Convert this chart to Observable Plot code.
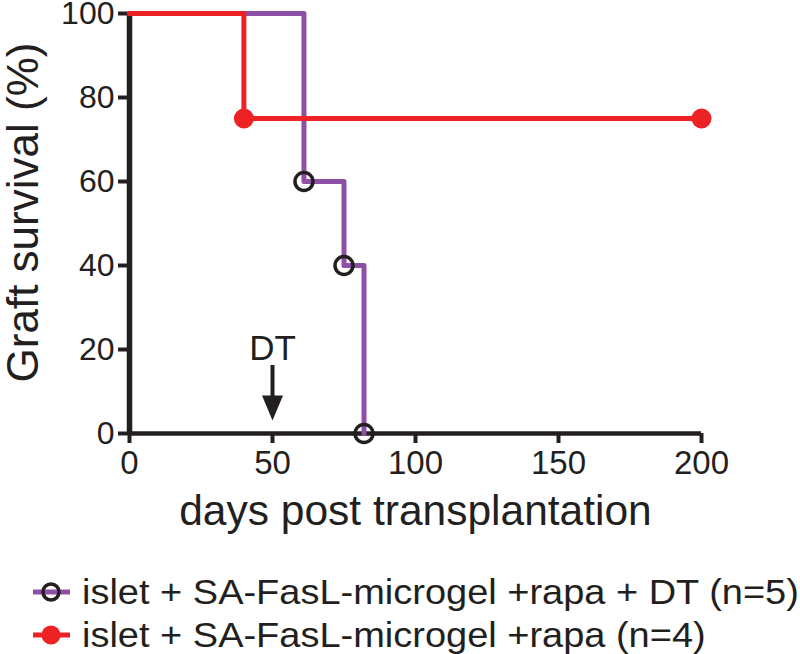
<!DOCTYPE html>
<html>
<head>
<meta charset="utf-8">
<script src="https://cdn.jsdelivr.net/npm/d3@7"></script>
<script src="https://cdn.jsdelivr.net/npm/@observablehq/plot@0.6"></script>
<style>
  body { margin: 0; background: #fff; font-family: "Liberation Sans", Arial, sans-serif; color: #231f20; }
  #wrap { position: relative; width: 800px; height: 654px; overflow: hidden; }
  #legend { position: absolute; left: 0; top: 0; width: 800px; }
  .row { position: absolute; left: 0; height: 40px; display: flex; align-items: center; font-size: 35px; white-space: nowrap; }
  .row svg { margin-left: 30px; margin-right: 10px; flex: none; }
  .row span { display: inline-block; transform: scaleX(1.085); transform-origin: left center; }
</style>
</head>
<body>
<div id="wrap">
  <div id="chart"></div>
  <div id="legend"></div>
</div>
<script>
// Data
const dtDays = [0, 61, 75, 82];          // islet + SA-FasL-microgel +rapa + DT (n=5)
const dtSurvival = [100, 60, 40, 0];
const noDtDays = [0, 40, 200];            // islet + SA-FasL-microgel +rapa (n=4)
const noDtSurvival = [100, 75, 75];
const xTicks = [0, 50, 100, 150, 200];
const yTicks = [0, 20, 40, 60, 80, 100];
const seriesNames = ["islet + SA-FasL-microgel +rapa + DT (n=5)", "islet + SA-FasL-microgel +rapa (n=4)"];
const dtDay = 50;
const dtLabel = "DT";

const purple = "#8e4fa6";
const red = "#ed2224";
const ink = "#231f20";

const dtData = dtDays.map((d, i) => ({day: d, surv: dtSurvival[i]}));
const noDtData = noDtDays.map((d, i) => ({day: d, surv: noDtSurvival[i]}));

const arrowHead = {
  draw(ctx, size) {
    ctx.moveTo(-10.5, -25);
    ctx.lineTo(10.5, -25);
    ctx.lineTo(0, 0);
    ctx.closePath();
  }
};

const chart = Plot.plot({
  width: 800,
  height: 550,
  marginLeft: 129,
  marginRight: 99,
  marginTop: 13,
  marginBottom: 117,
  style: {fontFamily: "'Liberation Sans', Arial, sans-serif", color: ink, background: "white", overflow: "visible"},
  x: {domain: [0, 200]},
  y: {domain: [0, 100]},
  marks: [
    Plot.axisX({ticks: xTicks, tickSize: 10, tickPadding: 7, fontSize: 33, strokeWidth: 4, stroke: ink, fill: ink, label: null}),
    Plot.axisY({ticks: yTicks, tickSize: 11, tickPadding: 4, fontSize: 32, strokeWidth: 4, stroke: ink, fill: ink, label: null}),
    Plot.ruleY([0], {stroke: ink, strokeWidth: 4.5}),
    Plot.ruleX([0], {stroke: ink, strokeWidth: 5.5}),
    Plot.text(["days post transplantation"], {frameAnchor: "bottom", dy: 91, fontSize: 42.5, fill: ink}),
    Plot.text(["Graft survival (%)"], {frameAnchor: "left", textAnchor: "middle", rotate: -90, dx: -106, dy: -11, fontSize: 44, fill: ink}),
    Plot.line(dtData, {x: "day", y: "surv", curve: "step-after", stroke: purple, strokeWidth: 5}),
    Plot.line(noDtData, {x: "day", y: "surv", curve: "step-after", stroke: red, strokeWidth: 5}),
    Plot.dot(dtData.slice(1), {x: "day", y: "surv", r: 9, stroke: ink, strokeWidth: 3.5, fill: "none"}),
    Plot.dot(noDtData.slice(1), {x: "day", y: "surv", r: 10, fill: red, stroke: "none"}),
    Plot.text([dtLabel], {x: dtDay, y: 17.5, lineAnchor: "bottom", fontSize: 35, fill: ink}),
    Plot.ruleX([dtDay], {y1: 16.2, y2: 8.5, stroke: ink, strokeWidth: 4}),
    Plot.dot([dtDay], {x: d => d, y: 3.1, symbol: arrowHead, fill: ink, stroke: "none", r: 10})
  ]
});
document.getElementById("chart").appendChild(chart);

// Legend
const legend = document.getElementById("legend");
const rowsTop = [572, 615];
seriesNames.forEach((name, i) => {
  const row = document.createElement("div");
  row.className = "row";
  row.style.top = rowsTop[i] + "px";
  const sw = i === 0
    ? `<svg width="42" height="40"><line x1="3" x2="40" y1="20" y2="20" stroke="${purple}" stroke-width="5"/><circle cx="21" cy="20" r="8" fill="none" stroke="${ink}" stroke-width="3.5"/></svg>`
    : `<svg width="42" height="40"><line x1="3" x2="40" y1="20" y2="20" stroke="${red}" stroke-width="5"/><circle cx="21" cy="20" r="9.5" fill="${red}"/></svg>`;
  row.innerHTML = sw + `<span>${name}</span>`;
  legend.appendChild(row);
});
</script>
</body>
</html>
